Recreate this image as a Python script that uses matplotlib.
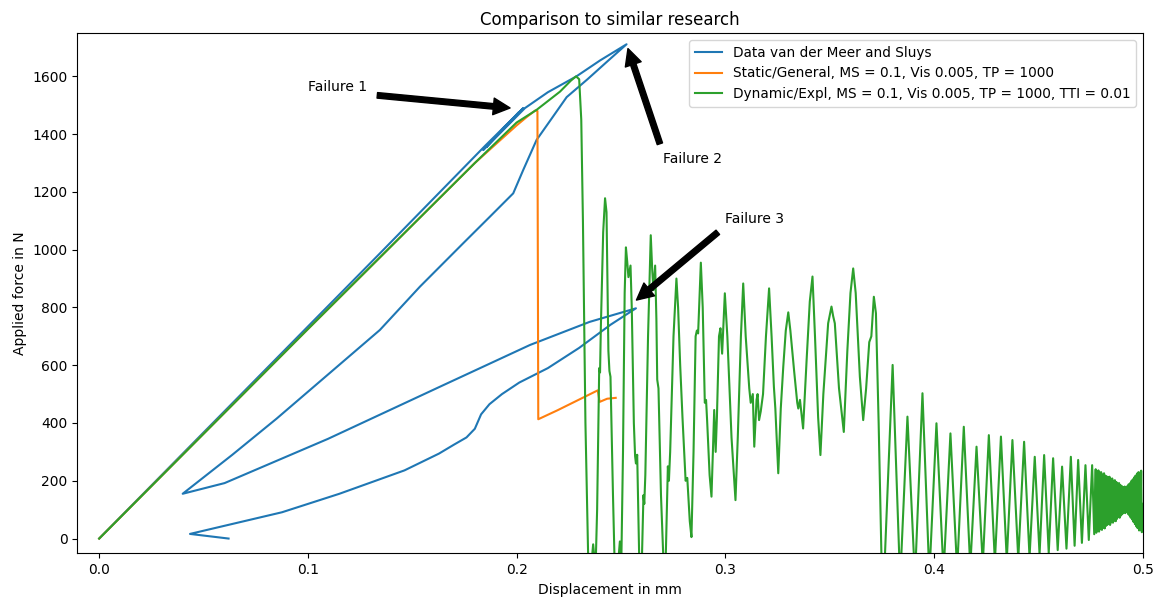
import numpy as np
import matplotlib
matplotlib.use("Agg")
import matplotlib.pyplot as plt

# --- Experimental curve: van der Meer and Sluys ---------------------------
ref_load_x = [0.0, 0.0500, 0.1345, 0.1850, 0.2032, 0.1840, 0.2010, 0.1855,
              0.2040, 0.2150, 0.2287, 0.2400, 0.2527]
ref_load_y = [0, 367, 987, 1360, 1490, 1345, 1475, 1355,
              1490, 1545, 1600, 1655, 1711]
ref_unload_x = [0.2440, 0.2340, 0.2240, 0.2175, 0.2096, 0.2032,
                0.1984, 0.1872, 0.1744, 0.1537, 0.1345, 0.1100, 0.0850,
                0.0638, 0.0400]
ref_unload_y = [1655, 1590, 1528, 1461, 1380, 1276,
                1195, 1114, 1022, 872, 722, 570, 415,
                290, 155]
ref_reload_x = [0.0601, 0.1096, 0.1646, 0.2064, 0.2350, 0.2572]
ref_reload_y = [192, 345, 530, 670, 750, 797]
ref_final_x = [0.2450, 0.2300, 0.2150, 0.2013, 0.1930, 0.1870, 0.1830,
               0.1800, 0.1760, 0.1700, 0.1628, 0.1463, 0.1151, 0.0876,
               0.0435, 0.0620]
ref_final_y = [740, 660, 590, 540, 500, 465, 430,
               380, 350, 325, 294, 236, 155, 91,
               16, 0]

# --- Static/General solver ------------------------------------------------
static_x = [0.0, 0.1000, 0.1800, 0.2000, 0.2050, 0.2090, 0.2100, 0.2104,
            0.2196, 0.2389, 0.2398, 0.2434, 0.2475]
static_y = [0, 725, 1300, 1430, 1460, 1482, 1480, 413,
            444, 513, 473, 484, 487]

# --- Dynamic/Explicit solver ----------------------------------------------
dyn_load_x = [0.0, 0.1000, 0.1800, 0.2000, 0.2096, 0.2208, 0.2260, 0.2285,
              0.2300, 0.2310, 0.2318, 0.2330, 0.2343, 0.2355]
dyn_load_y = [0, 725, 1300, 1440, 1484, 1547, 1585, 1600,
              1590, 1450, 1100, 400, -60, -150]

dyn_post_x = [0.2362, 0.2367, 0.2372, 0.2378, 0.2386, 0.2396, 0.2400, 0.2404,
              0.2415, 0.2424, 0.2431, 0.2440, 0.2445, 0.2450, 0.2462, 0.2472,
              0.2485, 0.2495, 0.2502, 0.2510, 0.2518, 0.2524, 0.2530, 0.2536,
              0.2546, 0.2552, 0.2562, 0.2568, 0.2572, 0.2578, 0.2588, 0.2598,
              0.2608, 0.2612, 0.2617, 0.2630, 0.2643, 0.2650, 0.2656, 0.2664,
              0.2670, 0.2674, 0.2680, 0.2692, 0.2705, 0.2715, 0.2725, 0.2730,
              0.2736, 0.2752, 0.2766, 0.2774, 0.2780, 0.2784, 0.2795, 0.2810,
              0.2818, 0.2830, 0.2838, 0.2848, 0.2858, 0.2864, 0.2870, 0.2883,
              0.2892, 0.2902, 0.2908, 0.2913, 0.2925, 0.2934, 0.2947, 0.2954,
              0.2960, 0.2970, 0.2977, 0.2985, 0.2998, 0.3010, 0.3030, 0.3049,
              0.3060, 0.3075, 0.3086, 0.3098, 0.3115, 0.3122, 0.3132, 0.3139,
              0.3150, 0.3155, 0.3162, 0.3170, 0.3181, 0.3195, 0.3210, 0.3222,
              0.3233, 0.3240, 0.3254, 0.3266, 0.3278, 0.3290, 0.3302, 0.3312,
              0.3330, 0.3345, 0.3350, 0.3358, 0.3373, 0.3390, 0.3405, 0.3418,
              0.3430, 0.3445, 0.3456, 0.3470, 0.3493, 0.3500, 0.3509, 0.3517,
              0.3525, 0.3545, 0.3568, 0.3585, 0.3600, 0.3613, 0.3625, 0.3645,
              0.3661, 0.3675, 0.3690, 0.3700, 0.3712, 0.3722, 0.3735, 0.3749,
              0.3760]
dyn_post_y = [-60, -20, -60, -120, 100, 590, 575, 735,
              1060, 1178, 1130, 650, 580, 560, 150, -150,
              -100, -10, -80, 300, 850, 1008, 960, 905,
              945, 800, 400, 285, 260, 290, -80, -150,
              150, 120, 220, 700, 1050, 930, 860, 945,
              760, 550, 520, 150, -100, -60, 250, 200,
              300, 700, 900, 800, 680, 600, 420, 200,
              210, 60, 5, 300, 700, 720, 710, 955,
              800, 470, 480, 410, 220, 145, 445, 300,
              420, 700, 728, 640, 849, 700, 350, 133,
              350, 700, 883, 700, 520, 470, 500, 318,
              480, 500, 410, 440, 500, 700, 866, 700,
              526, 450, 226, 450, 595, 720, 783, 720,
              580, 470, 450, 480, 381, 620, 820, 907,
              700, 420, 289, 500, 745, 770, 803, 770,
              745, 520, 369, 650, 850, 935, 850, 560,
              410, 520, 680, 700, 837, 780, 400, -80,
              -150]

dyn_decay_x = [0.3802, 0.3838, 0.3873, 0.3909, 0.3945, 0.3978, 0.4012, 0.4046,
               0.4079, 0.4111, 0.4143, 0.4174, 0.4204, 0.4234, 0.4263, 0.4292,
               0.4321, 0.4349, 0.4376, 0.4404, 0.4432, 0.4458, 0.4483, 0.4506,
               0.4528, 0.4550, 0.4571, 0.4593, 0.4614, 0.4635, 0.4656, 0.4674,
               0.4691, 0.4709, 0.4726, 0.4742, 0.4758]
dyn_decay_y = [601, -150, 422, -140, 503, -130, 399, -120,
               364, -110, 387, -100, 318, -90, 358, -80,
               353, -75, 341, -70, 335, -65, 283, -55,
               289, -50, 278, -40, 249, -35, 283, -25,
               272, -15, 254, -5, 254]

dyn_tail_x = [0.4768, 0.4775, 0.4778, 0.4782, 0.4785, 0.4788, 0.4791, 0.4795,
              0.4798, 0.4801, 0.4805, 0.4808, 0.4811, 0.4815, 0.4818, 0.4821,
              0.4825, 0.4828, 0.4831, 0.4834, 0.4838, 0.4841, 0.4844, 0.4848,
              0.4851, 0.4854, 0.4858, 0.4861, 0.4864, 0.4867, 0.4871, 0.4874,
              0.4877, 0.4881, 0.4884, 0.4887, 0.4890, 0.4894, 0.4897, 0.4900,
              0.4904, 0.4907, 0.4910, 0.4914, 0.4917, 0.4920, 0.4923, 0.4927,
              0.4930, 0.4933, 0.4937, 0.4940, 0.4943, 0.4947, 0.4950, 0.4953,
              0.4956, 0.4960, 0.4963, 0.4966, 0.4970, 0.4973, 0.4976, 0.4980,
              0.4983, 0.4986, 0.4989, 0.4993, 0.4996, 0.5000]
dyn_tail_y = [15, 240, 20, 232, 28, 236, 24, 228,
              32, 230, 30, 222, 38, 226, 35, 218,
              44, 215, 48, 212, 50, 214, 47, 205,
              56, 208, 55, 200, 62, 202, 60, 196,
              68, 190, 74, 192, 72, 185, 80, 182,
              86, 178, 90, 180, 88, 175, 92, 182,
              85, 188, 80, 192, 72, 200, 66, 205,
              58, 212, 50, 218, 42, 225, 36, 230,
              28, 228, 30, 235, 22, 120]

x_ticks = [0.0, 0.1, 0.2, 0.3, 0.4, 0.5]
y_ticks = [0, 200, 400, 600, 800, 1000, 1200, 1400, 1600]

labels = ["Data van der Meer and Sluys",
          "Static/General, MS = 0.1, Vis 0.005, TP = 1000",
          "Dynamic/Expl, MS = 0.1, Vis 0.005, TP = 1000, TTI = 0.01"]

ref_x = ref_load_x + ref_unload_x + ref_reload_x + ref_final_x
ref_y = ref_load_y + ref_unload_y + ref_reload_y + ref_final_y
dyn_x = dyn_load_x + dyn_post_x + dyn_decay_x + dyn_tail_x
dyn_y = dyn_load_y + dyn_post_y + dyn_decay_y + dyn_tail_y

fig = plt.figure(figsize=(11.55, 6.01), dpi=100)
ax = fig.add_axes([0.0669, 0.0794, 0.9224, 0.8652])

ax.plot(ref_x, ref_y, label=labels[0])
ax.plot(static_x, static_y, label=labels[1])
ax.plot(dyn_x, dyn_y, label=labels[2])

ax.set_xlim(-0.0105, 0.5)
ax.set_ylim(-51, 1749)
ax.set_xticks(x_ticks)
ax.set_yticks(y_ticks)

ax.set_title("Comparison to similar research")
ax.set_xlabel("Displacement in mm")
ax.set_ylabel("Applied force in N")
ax.legend(loc="upper right", prop={"size": 9.8})

arrow = dict(facecolor="black", shrink=0.05)
ax.annotate("Failure 1", xy=(0.2005, 1488), xytext=(0.1, 1548), arrowprops=arrow)
ax.annotate("Failure 2", xy=(0.2525, 1715), xytext=(0.27, 1300), arrowprops=arrow)
ax.annotate("Failure 3", xy=(0.2552, 812), xytext=(0.3, 1092), arrowprops=arrow)

fig.savefig("out.png", dpi=100)
